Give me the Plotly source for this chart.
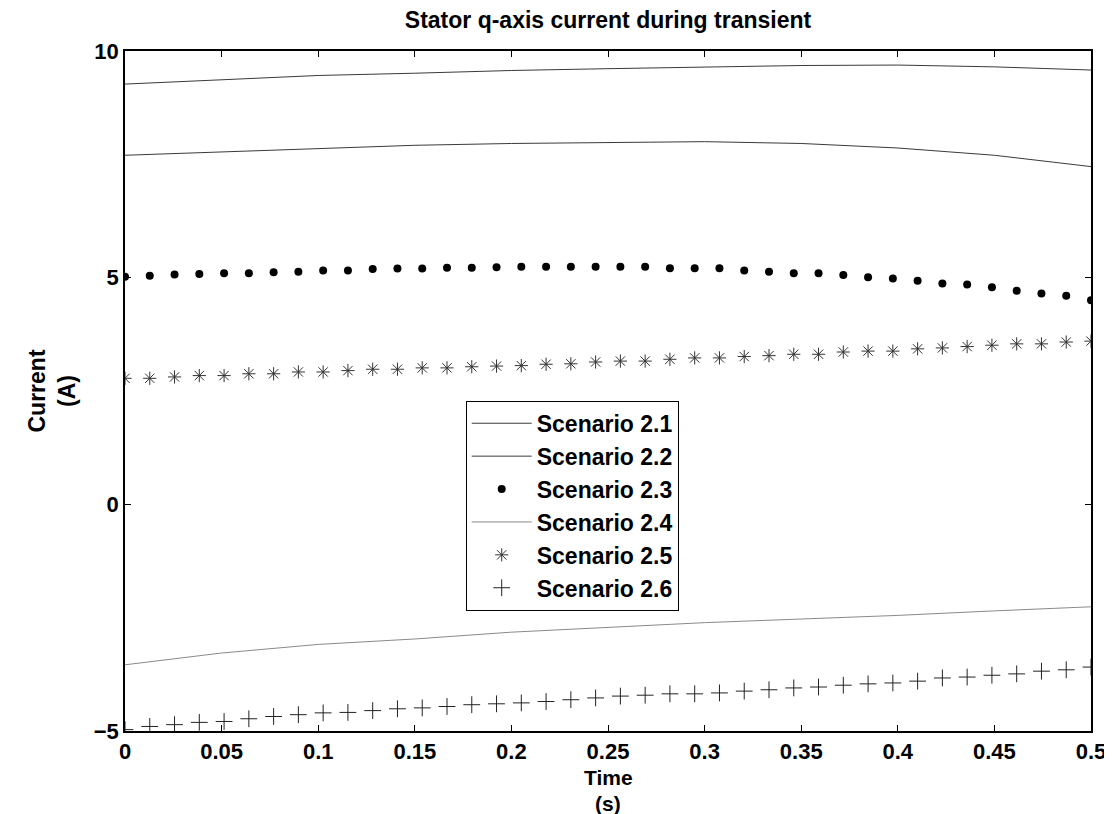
import numpy as np
import plotly.graph_objects as go

# time grid for the solid curves (s)
t_line = [0.0, 0.05, 0.10, 0.15, 0.20, 0.25, 0.30, 0.35, 0.40, 0.45, 0.50]
# time grid for the marker curves: 40 samples over 0..0.5 s
t_mark = np.linspace(0, 0.5, 40)

sc21 = [9.27, 9.36, 9.46, 9.51, 9.57, 9.61, 9.64, 9.68, 9.69, 9.65, 9.58]
sc22 = [7.70, 7.77, 7.85, 7.92, 7.96, 7.98, 8.00, 7.96, 7.86, 7.70, 7.45]
sc24 = [-3.54, -3.28, -3.09, -2.97, -2.82, -2.72, -2.61, -2.53, -2.45, -2.35, -2.26]

sc23 = [5.02, 5.04, 5.07, 5.08, 5.10, 5.10, 5.12, 5.13, 5.16, 5.16,
        5.19, 5.20, 5.20, 5.22, 5.22, 5.23, 5.24, 5.24, 5.24, 5.24,
        5.24, 5.24, 5.21, 5.21, 5.21, 5.16, 5.13, 5.10, 5.10, 5.06,
        5.01, 4.98, 4.93, 4.87, 4.85, 4.79, 4.71, 4.65, 4.60, 4.50]

sc25 = [2.78, 2.78, 2.81, 2.84, 2.84, 2.88, 2.88, 2.92, 2.92, 2.95,
        2.98, 2.98, 3.01, 3.01, 3.035, 3.05, 3.06, 3.09, 3.10, 3.14,
        3.16, 3.16, 3.20, 3.23, 3.23, 3.26, 3.28, 3.31, 3.31, 3.36,
        3.38, 3.38, 3.43, 3.45, 3.48, 3.51, 3.54, 3.54, 3.58, 3.60]

sc26 = [-4.97, -4.90, -4.86, -4.81, -4.79, -4.73, -4.68, -4.64, -4.60, -4.59,
        -4.55, -4.51, -4.49, -4.46, -4.42, -4.40, -4.38, -4.35, -4.31, -4.27,
        -4.23, -4.21, -4.18, -4.18, -4.16, -4.12, -4.09, -4.05, -4.03, -3.99,
        -3.96, -3.94, -3.90, -3.83, -3.81, -3.77, -3.74, -3.68, -3.65, -3.59]

x_ticks = [0, 0.05, 0.1, 0.15, 0.2, 0.25, 0.3, 0.35, 0.4, 0.45, 0.5]
x_labels = ["0", "0.05", "0.1", "0.15", "0.2", "0.25", "0.3", "0.35", "0.4", "0.45", "0.5"]
y_ticks = [-5, 0, 5, 10]

FONT = "Liberation Sans, Arial, sans-serif"

fig = go.Figure()

fig.add_trace(go.Scatter(x=t_line, y=sc21, mode="lines", name="Scenario 2.1",
                         line=dict(color="#3a3a3a", width=1)))
fig.add_trace(go.Scatter(x=t_line, y=sc22, mode="lines", name="Scenario 2.2",
                         line=dict(color="#3a3a3a", width=1)))
fig.add_trace(go.Scatter(x=t_mark, y=sc23, mode="markers", name="Scenario 2.3",
                         marker=dict(symbol="circle", size=8, color="black")))
fig.add_trace(go.Scatter(x=t_line, y=sc24, mode="lines", name="Scenario 2.4",
                         line=dict(color="#8a8a8a", width=1)))
fig.add_trace(go.Scatter(x=t_mark, y=sc25, mode="markers", name="Scenario 2.5",
                         marker=dict(symbol="asterisk-open", size=11, color="#333333",
                                     line=dict(color="#333333", width=1))))
fig.add_trace(go.Scatter(x=t_mark, y=sc26, mode="markers", name="Scenario 2.6",
                         marker=dict(symbol="cross-thin-open", size=12, color="#222222",
                                     line=dict(color="#222222", width=1))))

fig.update_layout(
    width=1112, height=814,
    paper_bgcolor="white", plot_bgcolor="white",
    margin=dict(l=117, r=29, t=43, b=91),
    font=dict(family=FONT, color="black"),
    title=dict(text="<b>Stator q-axis current during transient</b>",
               x=0.5, xref="paper", xanchor="center",
               y=0.985, yanchor="middle",
               font=dict(size=23, family=FONT, color="black")),
    xaxis=dict(
        range=[0, 0.5], tickvals=x_ticks, ticktext=x_labels,
        ticks="inside", ticklen=6, tickcolor="black", mirror="allticks",
        showline=True, linecolor="black", linewidth=1.5,
        showgrid=False, zeroline=False,
        tickfont=dict(size=22, weight="bold")),
    yaxis=dict(
        range=[-5, 10], tickvals=y_ticks,
        ticks="inside", ticklen=6, tickcolor="black", mirror="allticks",
        showline=True, linecolor="black", linewidth=1.5,
        showgrid=False, zeroline=False,
        tickfont=dict(size=22, weight="bold"),
        title=dict(text="<b>Current<br>(A)</b>", font=dict(size=23), standoff=12)),
    legend=dict(
        x=0.3527, y=0.4856, xanchor="left", yanchor="top",
        bgcolor="white", bordercolor="black", borderwidth=1,
        font=dict(size=23, weight="bold"),
        itemwidth=60, tracegroupgap=0),
    showlegend=True,
)

# x-axis title as two hand-placed lines so both fit in the bottom margin
fig.add_annotation(text="<b>Time</b>", xref="paper", yref="paper",
                   x=0.5, y=-0.068, xanchor="center", yanchor="middle",
                   showarrow=False, font=dict(size=21, family=FONT, color="black"))
fig.add_annotation(text="<b>(s)</b>", xref="paper", yref="paper",
                   x=0.5, y=-0.106, xanchor="center", yanchor="middle",
                   showarrow=False, font=dict(size=21, family=FONT, color="black"))

fig.write_html("out.html", config=dict(displayModeBar=False))
